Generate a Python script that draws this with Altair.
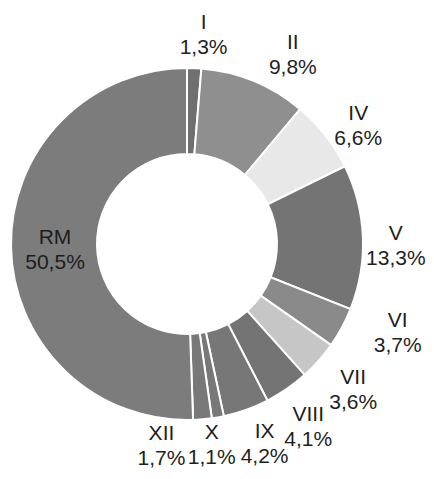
import altair as alt
import pandas as pd

# ---- data ----
categories = ["I", "II", "IV", "V", "VI", "VII", "VIII", "IX", "X", "XII", "RM"]
shares = [1.3, 9.8, 6.6, 13.3, 3.7, 3.6, 4.1, 4.2, 1.1, 1.7, 50.5]
share_labels = ["1,3%", "9,8%", "6,6%", "13,3%", "3,7%", "3,6%", "4,1%", "4,2%", "1,1%", "1,7%", "50,5%"]

# ---- styles ----
slice_colors = ["#6f6f6f", "#8f8f8f", "#e8e8e8", "#747474", "#8a8a8a", "#c6c6c6",
                "#747474", "#777777", "#787878", "#787878", "#7c7c7c"]
# label nudges (pixels) relative to the default outside-label position
nudge_x = [8, 26, 6, -1, 26, 9, 2, 7, -12, -44, 78]
nudge_y = [1, 6, 12, 11, -10, 7, 11, 3, -5, -7, 3]

CX, CY = 179, 236
R_OUT, R_IN, R_LAB = 176, 90, 210
LINE_H = 25

df = pd.DataFrame({
    "idx": list(range(len(categories))),
    "cat": categories,
    "share": shares,
    "lab": share_labels,
    "color": slice_colors,
    "nx": nudge_x,
    "ny": nudge_y,
})

base = alt.Chart(df)

arcs = base.mark_arc(outerRadius=R_OUT, innerRadius=R_IN, stroke="white", strokeWidth=2).encode(
    theta=alt.Theta("share:Q", stack=True),
    order=alt.Order("idx:Q"),
    color=alt.Color("color:N", scale=None),
    x=alt.value(CX),
    y=alt.value(CY),
)

labels = base.transform_joinaggregate(
    total="sum(share)"
).transform_window(
    cum="sum(share)", sort=[alt.SortField("idx")], frame=[None, 0]
).transform_calculate(
    ang="(datum.cum - datum.share / 2) / datum.total * 2 * PI",
    txt="datum.cat + '\\n' + datum.lab",
).transform_calculate(
    lx=f"{CX} + {R_LAB} * sin(datum.ang) + datum.nx",
    ly=f"{CY} - {R_LAB} * cos(datum.ang) + datum.ny - {LINE_H / 2}",
).mark_text(
    lineBreak="\n", align="center", baseline="middle", fontSize=21,
    lineHeight=LINE_H, font="Liberation Sans", color="#1e1e1e",
).encode(
    x=alt.X("lx:Q", scale=None),
    y=alt.Y("ly:Q", scale=None),
    text="txt:N",
)

chart = alt.layer(arcs, labels).properties(
    width=418, height=463, autosize=alt.AutoSizeParams(type="none"), padding=0,
    background="white",
).configure_view(stroke=None)

chart.save("out.html", embed_options={"renderer": "svg", "actions": False})
